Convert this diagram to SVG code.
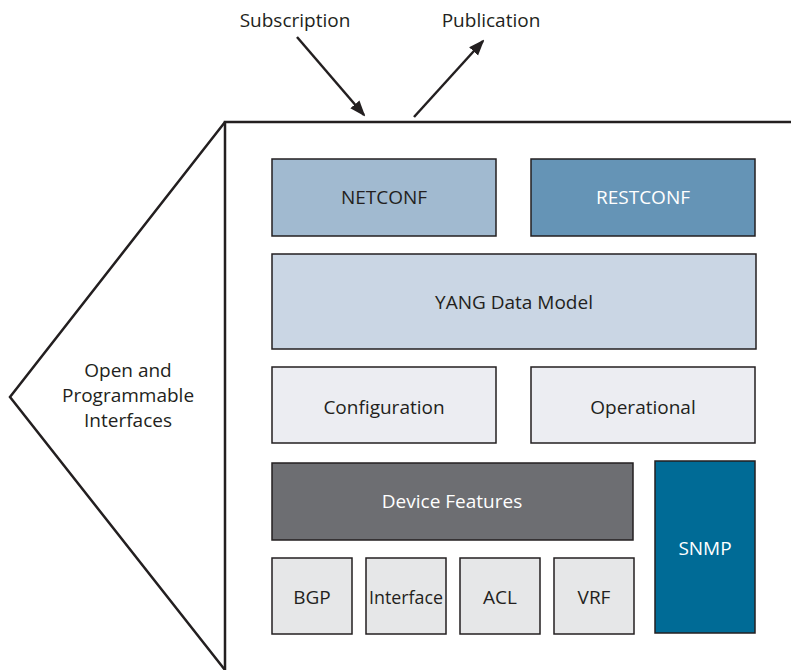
<svg xmlns="http://www.w3.org/2000/svg" width="791" height="670" viewBox="0 0 791 670">
<style>
text{font-family:"Open Sans","Noto Sans",sans-serif;font-size:19px;fill:#231f20;text-anchor:middle;dominant-baseline:central}
.w{fill:#ffffff}
.b{stroke:#231f20;stroke-width:1.5}
.line{stroke:#231f20;stroke-width:2.5;fill:none}
</style>
<defs>
<marker id="ah" markerWidth="16" markerHeight="14" refX="14" refY="6" orient="auto" markerUnits="userSpaceOnUse" viewBox="0 0 16 12">
<path d="M0,0 L16,6 L0,12 Z" fill="#231f20"/>
</marker>
</defs>
<rect width="791" height="670" fill="#ffffff"/>
<g id="frame">
<polyline class="line" points="791,122 225,122 225,670" stroke-width="2"/>
<polyline class="line" points="225,122 10,397 225,670"/>
<text x="128" y="370">Open and</text>
<text x="128" y="395">Programmable</text>
<text x="128" y="420">Interfaces</text>
</g>
<g id="labels">
<text x="295" y="20">Subscription</text>
<text x="491" y="20">Publication</text>
</g>
<g id="connectors">
<line class="line" x1="297" y1="37" x2="364" y2="115" marker-end="url(#ah)"/>
<line class="line" x1="414" y1="117" x2="483" y2="41" marker-end="url(#ah)"/>
</g>
<g id="netconf"><rect class="b" x="272" y="159" width="224" height="77" fill="#a1bad0"/><text x="384" y="197">NETCONF</text></g>
<g id="restconf"><rect class="b" x="531" y="159" width="224" height="77" fill="#6594b6"/><text class="w" x="643" y="197">RESTCONF</text></g>
<g id="yang"><rect class="b" x="272" y="254" width="484" height="95" fill="#cad6e4"/><text x="514" y="302">YANG Data Model</text></g>
<g id="configuration"><rect class="b" x="272" y="367" width="224" height="76" fill="#ecedf2"/><text x="384" y="407">Configuration</text></g>
<g id="operational"><rect class="b" x="531" y="367" width="224" height="76" fill="#ecedf2"/><text x="643" y="407">Operational</text></g>
<g id="device-features"><rect class="b" x="272" y="463" width="361" height="77" fill="#6d6e72"/><text class="w" x="452" y="501">Device Features</text></g>
<g id="snmp"><rect class="b" x="655" y="461" width="100" height="172" fill="#006b96"/><text class="w" x="705" y="548">SNMP</text></g>
<g id="bgp"><rect class="b" x="272" y="558" width="80" height="76" fill="#e6e7e8"/><text x="312" y="597">BGP</text></g>
<g id="interface"><rect class="b" x="366" y="558" width="80" height="76" fill="#e6e7e8"/><text x="406" y="597" textLength="74" lengthAdjust="spacingAndGlyphs">Interface</text></g>
<g id="acl"><rect class="b" x="460" y="558" width="80" height="76" fill="#e6e7e8"/><text x="500" y="597">ACL</text></g>
<g id="vrf"><rect class="b" x="554" y="558" width="80" height="76" fill="#e6e7e8"/><text x="594" y="597">VRF</text></g>
</svg>
